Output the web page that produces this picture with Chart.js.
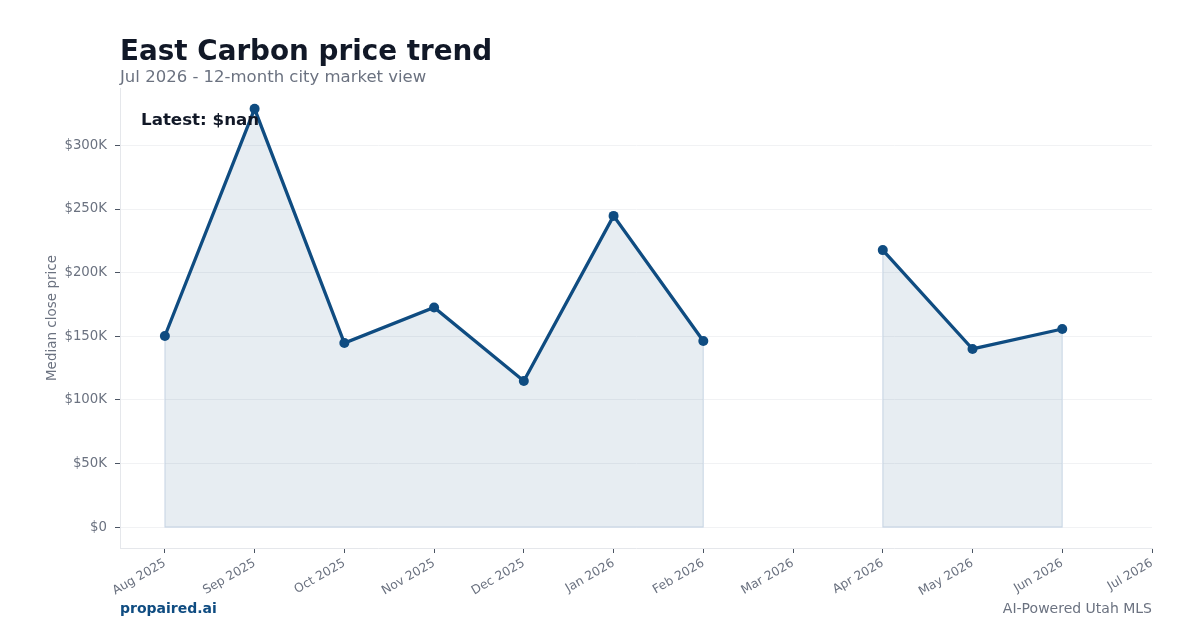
<!DOCTYPE html>
<html><head><meta charset="utf-8">
<script src="https://cdn.jsdelivr.net/npm/chart.js@4.4.1/dist/chart.umd.min.js"></script>
<style>
html,body{margin:0;padding:0;background:#fff;}
#wrap{position:relative;width:1200px;height:630px;font-family:"DejaVu Sans",sans-serif;}
canvas{position:absolute;left:0;top:0;}
.t{position:absolute;white-space:nowrap;}
</style></head><body>
<div id="wrap">
<canvas id="c" width="1200" height="630"></canvas>
<div class="t" style="left:120px;top:34px;font-size:27.8px;font-weight:bold;color:#111827;">East Carbon price trend</div>
<div class="t" style="left:120px;top:67px;font-size:16.5px;color:#6b7280;">Jul 2026 - 12-month city market view</div>
<div class="t" style="left:141px;top:109px;font-size:16.7px;font-weight:bold;color:#111827;">Latest: $nan</div>
<div class="t" style="left:120px;top:600px;font-size:14px;font-weight:bold;color:#0f4c81;">propaired.ai</div>
<div class="t" style="right:48px;top:600px;font-size:14px;color:#6b7280;">AI-Powered Utah MLS</div>
</div>
<script>
const months = ['Aug 2025','Sep 2025','Oct 2025','Nov 2025','Dec 2025','Jan 2026','Feb 2026','Mar 2026','Apr 2026','May 2026','Jun 2026','Jul 2026'];
const medianPrice = [150200, 328700, 144700, 172600, 114800, 244600, 146300, null, 217700, 140000, 155700, null];
const yTicks = [0, 50000, 100000, 150000, 200000, 250000, 300000];

const points = medianPrice.map((v,i)=>({x:i,y:v}));

const edgePlugin = {
  id:'edge',
  beforeDatasetsDraw(chart){
    const xs = chart.scales.x, ys = chart.scales.y, ctx = chart.ctx;
    ctx.save();
    ctx.strokeStyle = '#d6e0ec';
    ctx.lineWidth = 1.2;
    let seg = [];
    const flush = ()=>{
      if(seg.length>1){
        const y0 = ys.getPixelForValue(0);
        const a = seg[0], b = seg[seg.length-1];
        ctx.beginPath();
        ctx.moveTo(xs.getPixelForValue(a.x), ys.getPixelForValue(a.y));
        ctx.lineTo(xs.getPixelForValue(a.x), y0);
        ctx.lineTo(xs.getPixelForValue(b.x), y0);
        ctx.lineTo(xs.getPixelForValue(b.x), ys.getPixelForValue(b.y));
        ctx.stroke();
      }
      seg = [];
    };
    points.forEach(p=>{ if(p.y===null) flush(); else seg.push(p); });
    flush();
    ctx.restore();
  }
};

new Chart(document.getElementById('c'), {
  type:'line',
  data:{datasets:[{
    data: points,
    borderColor:'#0f4c81',
    borderWidth:3.3,
    pointRadius:5,
    pointHoverRadius:5,
    pointBackgroundColor:'#0f4c81',
    pointBorderColor:'#0f4c81',
    pointBorderWidth:0,
    fill:{target:'origin'},
    backgroundColor:'rgba(15,76,129,0.1)',
    spanGaps:false,
    tension:0
  }]},
  options:{
    responsive:false,
    animation:false,
    events:[],
    layout:{padding:{left:44,right:48,top:88,bottom:0}},
    plugins:{legend:{display:false},tooltip:{enabled:false}},
    scales:{
      x:{
        type:'linear', min:-0.5, max:11,
        afterBuildTicks(s){ s.ticks = months.map((m,i)=>({value:i})); },
        afterFit(s){ s.height = 630-548; },
        ticks:{
          callback:(v)=>months[v],
          minRotation:30, maxRotation:30, autoSkip:false,
          color:'#6b7280', font:{family:'DejaVu Sans', size:12.3}, padding:3
        },
        grid:{drawOnChartArea:false, drawTicks:true, tickLength:5, tickColor:'#4b5563', tickWidth:1},
        border:{display:true, color:'#e5e7eb', width:1}
      },
      y:{
        min:-16400, max:345100,
        afterBuildTicks(s){ s.ticks = yTicks.map(v=>({value:v})); },
        afterFit(s){ s.width = 76; },
        ticks:{
          callback:(v)=> v===0 ? '$0' : '$'+(v/1000)+'K',
          color:'#6b7280', font:{family:'DejaVu Sans', size:13.3}, padding:8
        },
        title:{display:true, text:'Median close price', color:'#6b7280', font:{family:'DejaVu Sans', size:13.5}, padding:{top:0,bottom:0}},
        grid:{color:'#f1f2f4', lineWidth:1, drawTicks:true, tickLength:5, tickColor:'#4b5563'},
        border:{display:true, color:'#e5e7eb', width:1}
      }
    }
  },
  plugins:[edgePlugin]
});
</script>
</body></html>
